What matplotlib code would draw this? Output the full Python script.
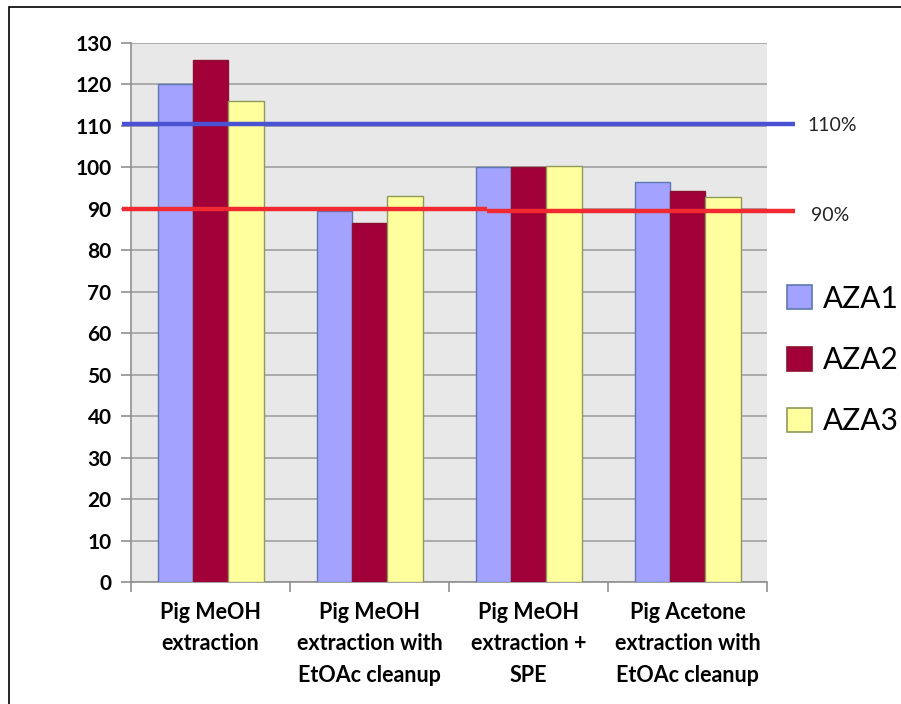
import matplotlib
matplotlib.use("Agg")
import matplotlib.pyplot as plt
import matplotlib.transforms as mtransforms
from matplotlib.patches import Rectangle, Patch
import numpy as np

categories = [
    "Pig MeOH\nextraction",
    "Pig MeOH\nextraction with\nEtOAc cleanup",
    "Pig MeOH\nextraction +\nSPE",
    "Pig Acetone\nextraction with\nEtOAc cleanup",
]
series_names = ["AZA1", "AZA2", "AZA3"]
aza1 = [120.0, 89.5, 100.0, 96.4]
aza2 = [126.0, 86.5, 100.0, 94.3]
aza3 = [116.0, 93.1, 100.4, 92.9]
y_ticks = list(range(0, 131, 10))
upper_limit = 110.5
lower_limit_left = 90.0
lower_limit_right = 89.5
upper_label = "110%"
lower_label = "90%"

fill_colors = ["#a3a3ff", "#a10038", "#ffff9e"]
edge_colors = ["#5b78b0", "#8c1030", "#8f9a5a"]

plt.rcParams["font.family"] = ["Lato", "DejaVu Sans"]

fig = plt.figure(figsize=(9.01, 7.04), dpi=100)
W, H = 901, 704

# outer frame
fig.patches.append(Rectangle((9 / W, -0.1), 1.2, 1 - 7 / H + 0.1,
                             transform=fig.transFigure, fill=False,
                             edgecolor="black", linewidth=1.2))

ax = fig.add_axes([131 / W, 1 - 582 / H, 636 / W, 539 / H])
ax.set_facecolor("#e8e8e8")

n = len(categories)
x = np.arange(n)
bw = 1 / 4.5
for i, (vals, fc, ec) in enumerate(zip([aza1, aza2, aza3], fill_colors, edge_colors)):
    ax.bar(x + (i - 1) * bw, vals, width=bw, color=fc, edgecolor=ec,
           linewidth=1.0, zorder=3)

ax.set_xlim(-0.5, n - 0.5)
ax.set_ylim(0, 130)
ax.set_yticks(y_ticks)
ax.set_yticklabels([str(v) for v in y_ticks], fontsize=15, fontweight="bold")
ax.yaxis.grid(True, color="#a0a0a0", linewidth=1.2, zorder=1)
ax.set_axisbelow(True)

ax.set_xticks(np.arange(-0.5, n, 1.0))
ax.set_xticklabels([])
ax.set_xticks(x, minor=True)
ax.set_xticklabels(categories, minor=True, fontsize=15.5, fontweight="bold",
                   linespacing=1.6)
ax.tick_params(axis="x", which="minor", length=0, pad=14.5)
ax.tick_params(axis="x", which="major", length=7, color="#909090", width=1.2)
ax.tick_params(axis="y", length=7, color="#909090", width=1.2, pad=7)

for side in ["top", "right"]:
    ax.spines[side].set_visible(False)
for side in ["left", "bottom"]:
    ax.spines[side].set_color("#909090")
    ax.spines[side].set_linewidth(1.2)

# acceptance limits
trans = mtransforms.blended_transform_factory(ax.transAxes, ax.transData)
x0 = -9 / 636
x1 = (795 - 131) / 636
xs = (487 - 131) / 636
ax.plot([x0, x1], [upper_limit, upper_limit], color="#4a52d4", linewidth=3.2,
        transform=trans, clip_on=False, zorder=5, solid_capstyle="butt")
ax.plot([x0, xs], [lower_limit_left, lower_limit_left], color="#f02a30",
        linewidth=3.2, transform=trans, clip_on=False, zorder=5,
        solid_capstyle="butt")
ax.plot([xs, x1], [lower_limit_right, lower_limit_right], color="#f02a30",
        linewidth=3.2, transform=trans, clip_on=False, zorder=5,
        solid_capstyle="butt")
ax.text((807 - 131) / 636, upper_limit - 0.4, upper_label, transform=trans,
        fontsize=14, va="center", ha="left", color="#252525")
ax.text((811 - 131) / 636, lower_limit_right - 1.0, lower_label, transform=trans,
        fontsize=14, va="center", ha="left", color="#252525")

handles = [Patch(facecolor=fc, edgecolor=ec, linewidth=1.2)
           for fc, ec in zip(fill_colors, edge_colors)]
fig.legend(handles, series_names, loc="center left",
           bbox_to_anchor=(775 / W, 1 - 360 / H), frameon=False,
           fontsize=21.5, handlelength=0.85, handleheight=0.85,
           handletextpad=0.35, labelspacing=1.12, borderaxespad=0)

fig.savefig("out.png", dpi=100)
